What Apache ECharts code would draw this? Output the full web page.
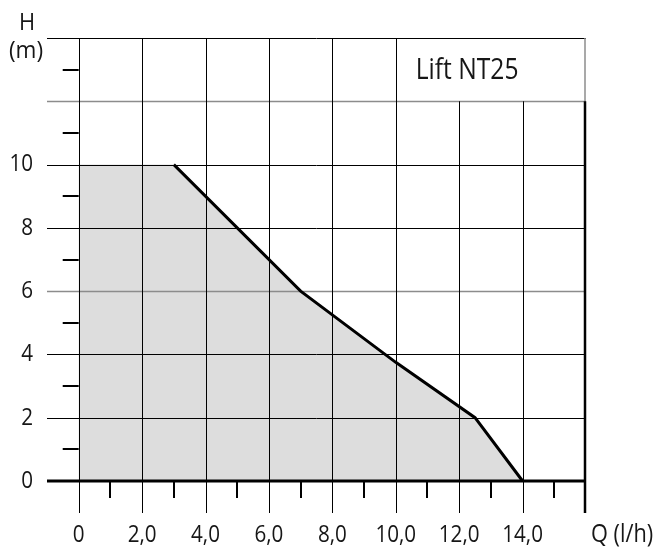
<!DOCTYPE html>
<html>
<head>
<meta charset="utf-8">
<script src="https://cdn.jsdelivr.net/npm/echarts@6/dist/echarts.min.js"></script>
<style>
  html, body { margin: 0; padding: 0; background: #fff; }
  #chart { width: 657px; height: 549px; }
</style>
</head>
<body>
<div id="chart"></div>
<script>
// Pump curve: delivery head H (m) against flow Q (l/h)
const shadedQ = [0, 3, 7, 10, 12.5, 14];
const shadedH = [10, 10, 6, 3.75, 2, 0];
const curveQ = [3, 7, 10, 12.5, 14];
const curveH = [10, 6, 3.75, 2, 0];

// Axis ticks and labels
const qTicks = [0, 2, 4, 6, 8, 10, 12, 14];
const qTickLabels = ['0', '2,0', '4,0', '6,0', '8,0', '10,0', '12,0', '14,0'];
const qMinorTicks = [1, 3, 5, 7, 9, 11, 13, 15];
const hTicks = [0, 2, 4, 6, 8, 10];
const hTickLabels = ['0', '2', '4', '6', '8', '10'];
const hGridLines = [2, 4, 6, 8, 10, 12, 14];
const hMinorTicks = [1, 3, 5, 7, 9, 11, 13];

const Q_MIN = -1, Q_MAX = 16, H_MAX = 14;
const BOX_Q = 10, BOX_H = 12;      // name plate corner (top-right box)
const FONT = "'Open Sans', 'Noto Sans', sans-serif";
const TEXT = '#161616';
const GRAY = '#8c8c8c';
const NARROW = 0.86;               // horizontal squeeze for the condensed lettering

const chart = echarts.init(document.getElementById('chart'), null, { renderer: 'canvas' });

const px = v => Math.round(v) + 0.5;

function seg(x1, y1, x2, y2, stroke, width) {
  return { type: 'line', shape: { x1, y1, x2, y2 }, style: { stroke, lineWidth: width } };
}

function label(text, x, y, size, align, scaleX) {
  return {
    type: 'text', x, y, scaleX,
    style: { text, x: 0, y: 0, align, verticalAlign: 'middle', font: size + 'px ' + FONT, fill: TEXT }
  };
}

// Frame, grid, ticks and tick labels drawn from axis coordinates
function renderGrid(params, api) {
  const els = [];
  const c = (q, h) => api.coord([q, h]);
  const y0 = c(0, 0)[1];
  // horizontal grid lines
  hGridLines.forEach(h => {
    const a = c(Q_MIN, h), b = c(Q_MAX, h);
    const gray = (h === 6 || h === 12);
    els.push(seg(a[0], px(a[1]), b[0], px(b[1]), gray ? GRAY : '#000', gray ? 1.5 : 1));
  });
  // vertical grid lines, running below the Q axis
  qTicks.forEach(q => {
    const top = (q > BOX_Q) ? BOX_H : H_MAX;
    const a = c(q, top), b = c(q, 0);
    els.push(seg(px(a[0]), a[1], px(b[0]), b[1] + 32, '#000', 1));
  });
  // right border
  const rTop = c(Q_MAX, H_MAX), rMid = c(Q_MAX, BOX_H), rBot = c(Q_MAX, 0);
  els.push(seg(rTop[0] - 1, rTop[1], rTop[0] - 1, rMid[1], GRAY, 1.5));
  els.push(seg(rMid[0] - 1, rMid[1], rBot[0] - 1, rBot[1] + 32, '#000', 2.5));
  // Q axis line
  const l = c(Q_MIN, 0), r = c(Q_MAX, 0);
  els.push(seg(l[0], y0, r[0], y0, '#000', 3));
  // minor ticks on the Q axis
  qMinorTicks.forEach(q => {
    const p = c(q, 0);
    els.push(seg(Math.round(p[0]), y0, Math.round(p[0]), y0 + 17, '#000', 2));
  });
  // minor ticks on the H axis
  hMinorTicks.forEach(h => {
    const p = c(0, h);
    els.push(seg(p[0] - 16, Math.round(p[1]), p[0], Math.round(p[1]), '#000', 2));
  });
  // tick labels
  qTicks.forEach((q, i) => {
    const p = c(q, 0);
    els.push(label(qTickLabels[i], p[0], y0 + 54, 24, 'center', NARROW));
  });
  hTicks.forEach((h, i) => {
    const p = c(Q_MIN, h);
    els.push(label(hTickLabels[i], p[0] - 14, p[1], 24, 'right', NARROW));
  });
  // name plate text
  const t = c(12.25, (BOX_H + H_MAX) / 2);
  els.push(label('Lift NT25', t[0], t[1] + 1, 30, 'center', 0.82));
  return { type: 'group', children: els };
}

chart.setOption({
  animation: false,
  grid: { left: 47, right: 71, top: 38, bottom: 68 },
  xAxis: {
    type: 'value', min: Q_MIN, max: Q_MAX, interval: 1,
    axisLine: { show: false }, axisTick: { show: false }, splitLine: { show: false },
    axisLabel: { show: false }
  },
  yAxis: {
    type: 'value', min: 0, max: H_MAX, interval: 1,
    axisLine: { show: false }, axisTick: { show: false }, splitLine: { show: false },
    axisLabel: { show: false }
  },
  graphic: [
    { type: 'text', x: 27, y: 23, scaleX: 0.95,
      style: { text: 'H', align: 'center', verticalAlign: 'middle', font: '23px ' + FONT, fill: TEXT } },
    { type: 'text', x: 26, y: 51, scaleX: 0.98,
      style: { text: '(m)', align: 'center', verticalAlign: 'middle', font: '23px ' + FONT, fill: TEXT } },
    { type: 'text', x: 591, y: 535, scaleX: 0.87,
      style: { text: 'Q (l/h)', align: 'left', verticalAlign: 'middle', font: '25px ' + FONT, fill: TEXT } }
  ],
  series: [
    {
      type: 'line', z: 1, silent: true, symbol: 'none',
      data: shadedQ.map((q, i) => [q, shadedH[i]]),
      lineStyle: { width: 0 },
      areaStyle: { color: '#dddddd', opacity: 1, origin: 'start' }
    },
    {
      type: 'custom', z: 2, silent: true, clip: false,
      data: [[0, 0]],
      renderItem: renderGrid
    },
    {
      type: 'line', z: 3, silent: true, symbol: 'none',
      data: curveQ.map((q, i) => [q, curveH[i]]),
      lineStyle: { color: '#000', width: 3, join: 'miter' }
    }
  ]
});
</script>
</body>
</html>
